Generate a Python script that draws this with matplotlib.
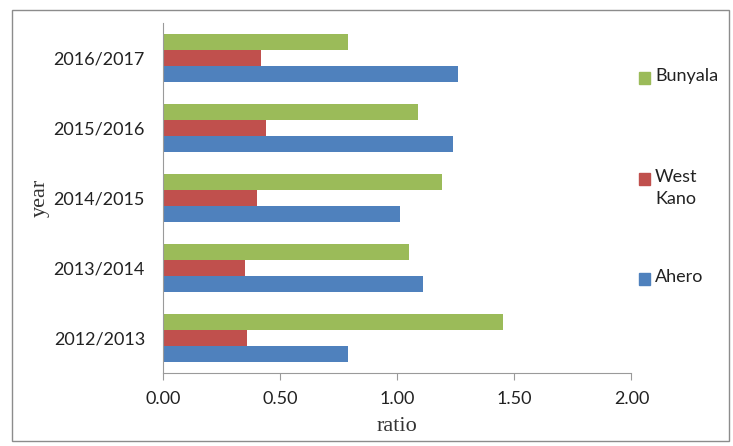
import numpy as np
import matplotlib.pyplot as plt
from matplotlib.patches import Rectangle

# ---------------- Datos ----------------
years = ["2012/2013", "2013/2014", "2014/2015", "2015/2016", "2016/2017"]
ahero = [0.79, 1.11, 1.01, 1.24, 1.26]
west_kano = [0.36, 0.35, 0.40, 0.44, 0.42]
bunyala = [1.45, 1.05, 1.19, 1.09, 0.79]

series = [("Ahero", ahero, "#4F81BD"),
          ("West\nKano", west_kano, "#C0504D"),
          ("Bunyala", bunyala, "#9BBB59")]

sans = ["Lato", "DejaVu Sans"]
serif = ["Liberation Serif", "DejaVu Serif"]

fig = plt.figure(figsize=(7.33, 4.46), dpi=100)
ax = fig.add_axes([0.2224, 0.1637, 0.8615 - 0.2224, 0.9484 - 0.1637])

# marco exterior
fig.add_artist(Rectangle((12/733, 1 - 441/446), 717/733, 431/446,
                         transform=fig.transFigure, fill=False,
                         edgecolor="#8c8c8c", linewidth=1.0))

y = np.arange(len(years))
h = 0.224
for i, (name, vals, col) in enumerate(series):
    ax.barh(y + (i - 1) * h, vals, height=h, color=col)

ax.set_xlim(0, 2.0)
ax.set_ylim(-0.5, len(years) - 0.5)
ax.set_xticks([0, 0.5, 1.0, 1.5, 2.0])
ax.set_xticklabels([f"{v:.2f}" for v in [0, 0.5, 1.0, 1.5, 2.0]], family=sans, fontsize=13)
ax.set_yticks(y)
ax.set_yticklabels(years, family=sans, fontsize=13)

for s in ["top", "right"]:
    ax.spines[s].set_visible(False)
for s in ["left", "bottom"]:
    ax.spines[s].set_color("#9a9a9a")
ax.tick_params(axis="x", length=5, color="#9a9a9a", pad=8, labelcolor="#222222")
ax.tick_params(axis="y", length=0, pad=13, labelcolor="#222222")

ax.set_xlabel("ratio", family=serif, fontsize=16, color="#333333", labelpad=7)
fig.text(40/733, 1 - 198/446, "year", family=serif, fontsize=16, color="#333333",
         rotation=90, ha="center", va="center")

# leyenda manual
leg_y = {"Bunyala": 78, "West\nKano": 179, "Ahero": 279}
for name, vals, col in series:
    yy = leg_y[name]
    fig.add_artist(Rectangle((639/733, 1 - (yy + 6)/446), 11/733, 12/446,
                             transform=fig.transFigure, color=col))
    fig.text(655/733, 1 - (yy - 10)/446, name, family=sans, fontsize=13,
             color="#222222", ha="left", va="top", linespacing=1.45)

fig.savefig("out.png", dpi=100)
